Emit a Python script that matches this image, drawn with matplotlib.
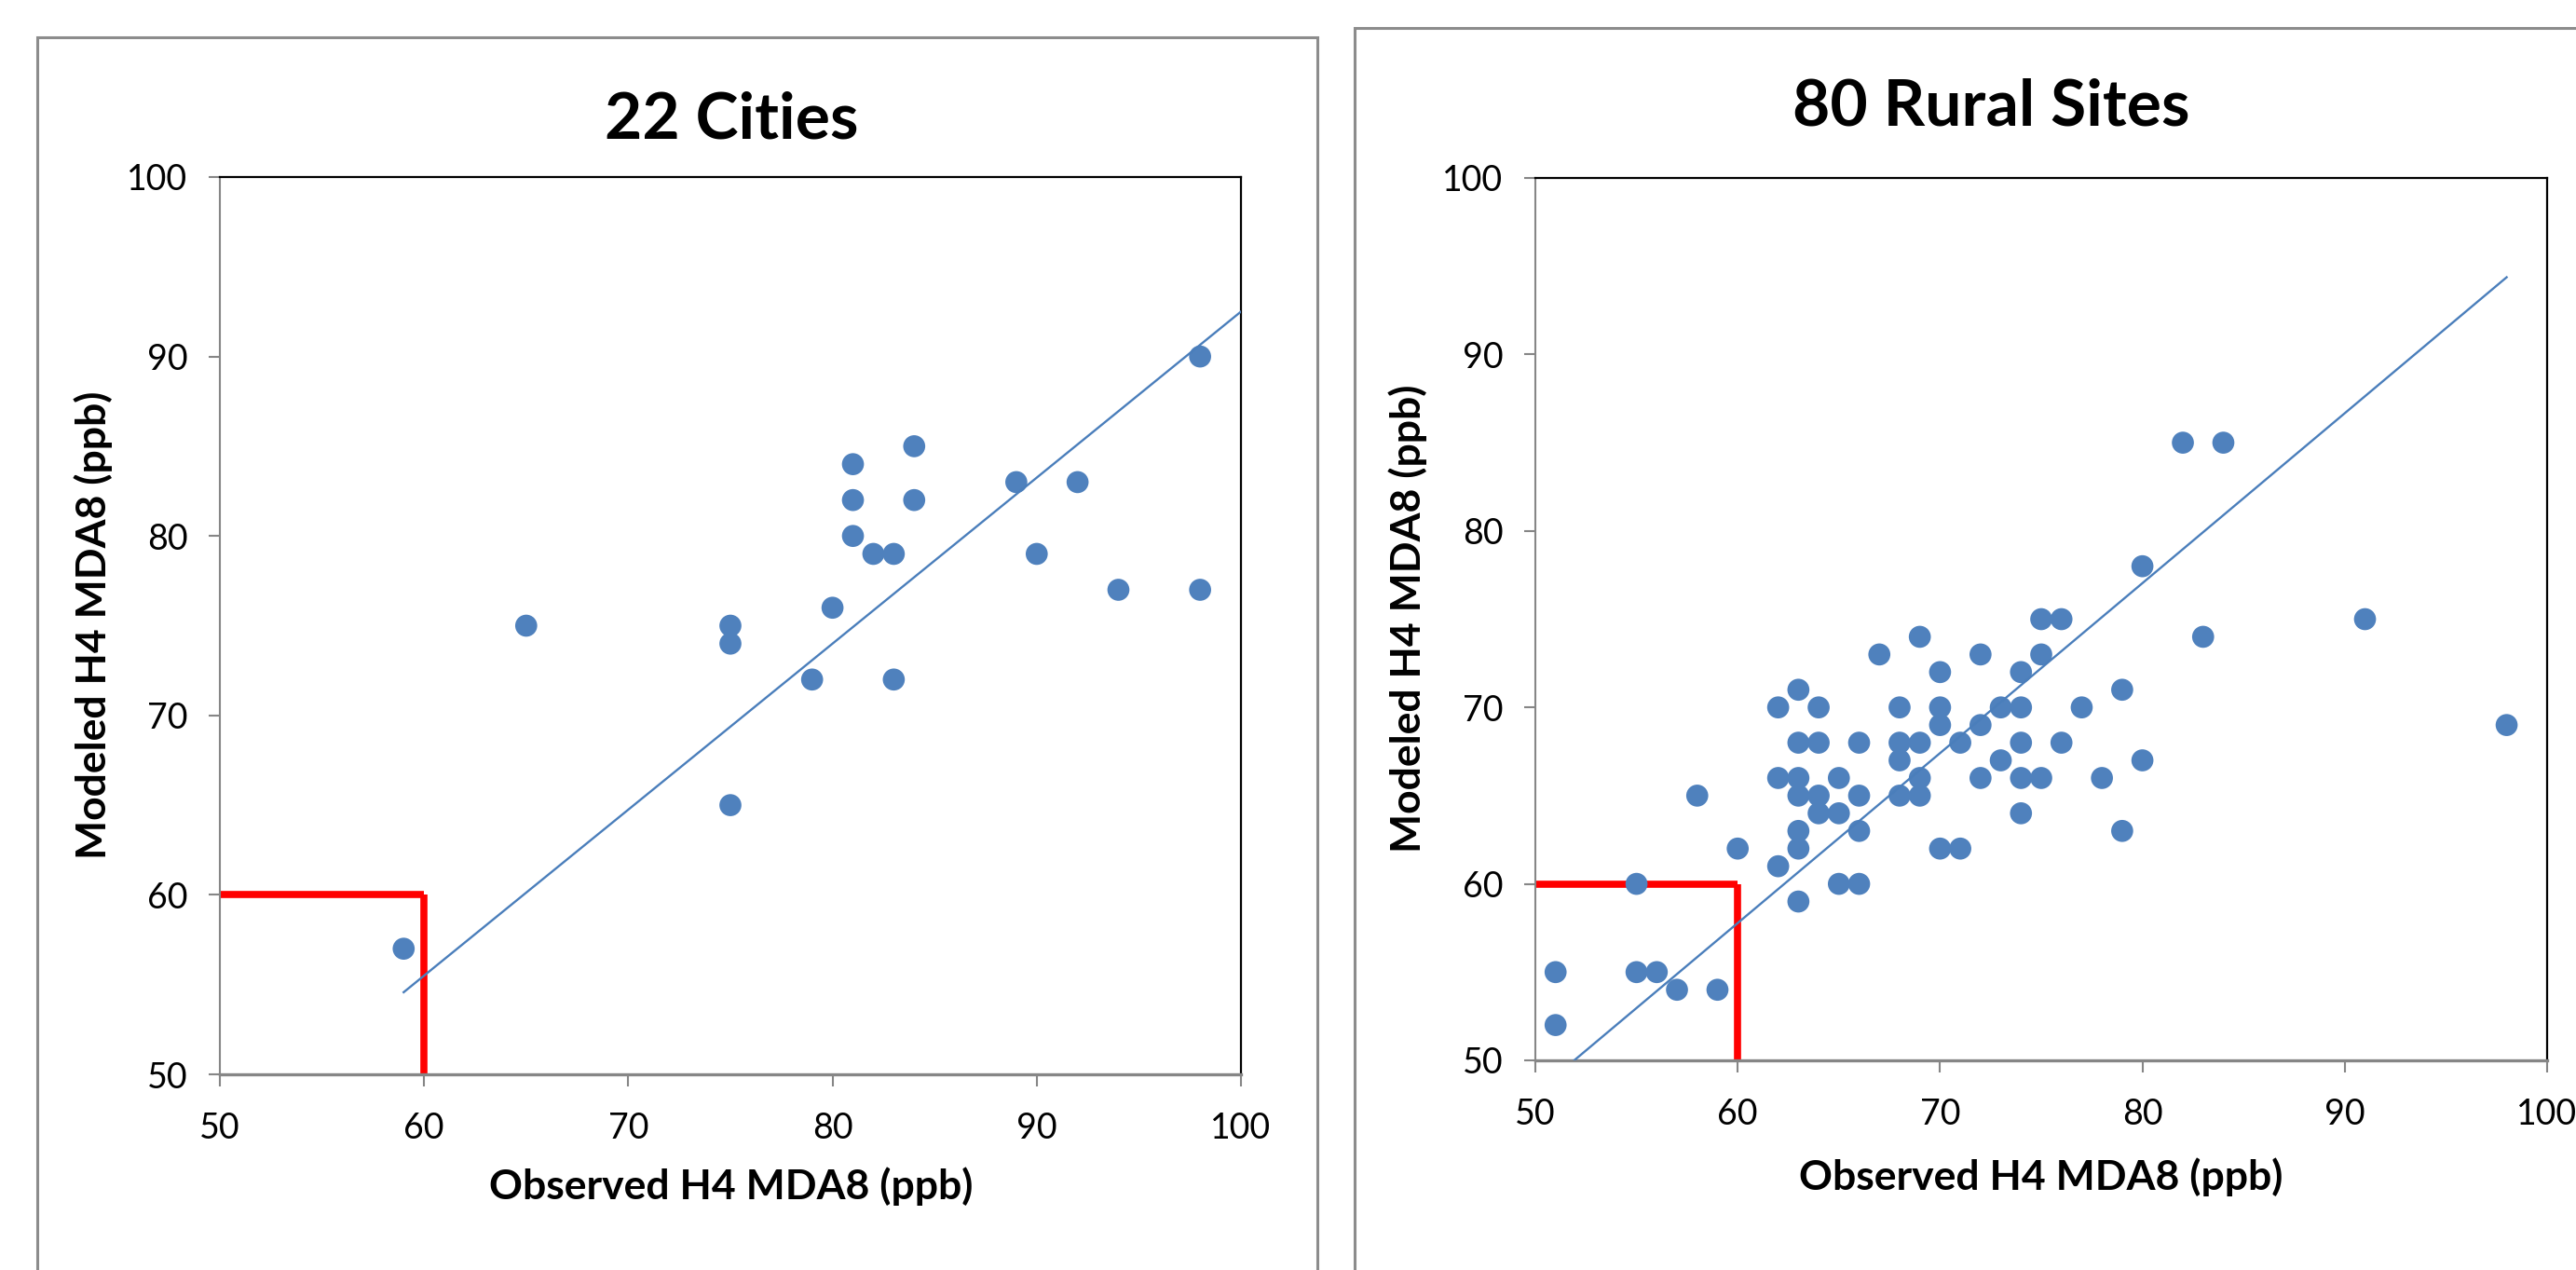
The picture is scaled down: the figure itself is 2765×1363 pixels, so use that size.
import numpy as np
import matplotlib
matplotlib.use("Agg")
import matplotlib.pyplot as plt
from matplotlib.patches import Rectangle

plt.rcParams['font.family'] = ['Lato', 'DejaVu Sans']

# 22 cities: observed vs modeled H4 MDA8 (ppb)
city_obs = [59, 65, 75, 75, 75, 79, 80, 81, 81, 81, 82,
            83, 83, 84, 84, 89, 90, 92, 94, 98, 98]
city_mod = [57, 75, 75, 74, 65, 72, 76, 84, 82, 80, 79,
            79, 72, 85, 82, 83, 79, 83, 77, 90, 77]

# 80 rural sites
rural_obs = [51, 51, 55, 55, 56, 57, 58, 59, 60,
             62, 62, 62, 63, 63, 63, 63, 63, 63, 63,
             64, 64, 64, 64, 65, 65, 65, 66, 66, 66, 66,
             67, 68, 68, 68, 68, 69, 69, 69, 69,
             70, 70, 70, 70, 71, 71, 72, 72, 72, 73, 73,
             74, 74, 74, 74, 74, 75, 75, 75, 76, 76, 77, 78,
             79, 79, 80, 80, 82, 83, 84, 91, 98]
rural_mod = [55, 52, 60, 55, 55, 54, 65, 54, 62,
             70, 66, 61, 71, 68, 66, 65, 63, 62, 59,
             70, 68, 65, 64, 66, 64, 60, 68, 65, 63, 60,
             73, 70, 68, 67, 65, 74, 68, 66, 65,
             72, 70, 69, 62, 68, 62, 73, 69, 66, 70, 67,
             72, 70, 68, 66, 64, 75, 73, 66, 75, 68, 70, 66,
             71, 63, 78, 67, 85, 74, 85, 75, 69]

# trend lines (through origin)
city_slope = 0.925
city_fit_x = [59, 100]
rural_slope = 0.963
rural_fit_x = [51.9, 98]

threshold = 60
ticks = [50, 60, 70, 80, 90, 100]

W, H = 2765, 1363
fig = plt.figure(figsize=(W / 100, H / 100), dpi=100)
fig.patch.set_facecolor('white')

blue = '#4F81BD'
gray = '#868686'


def px(x0, y0, x1, y1):
    # pixel box (top-left origin) -> figure fraction rect
    return [x0 / W, 1 - y1 / H, (x1 - x0) / W, (y1 - y0) / H]


# chart-area frames
fig.patches.append(Rectangle((40 / W, -0.1), (1414 - 40) / W, 0.1 + 1 - 40 / H,
                             transform=fig.transFigure, fill=False,
                             edgecolor='#8c8c8c', linewidth=2.2, zorder=0))
fig.patches.append(Rectangle((1454 / W, -0.1), 0.6, 0.1 + 1 - 30 / H,
                             transform=fig.transFigure, fill=False,
                             edgecolor='#8c8c8c', linewidth=2.2, zorder=0))

ax1 = fig.add_axes(px(236, 190, 1332, 1153))
ax2 = fig.add_axes(px(1648, 191, 2734, 1138))


def draw(ax, xs, ys, slope, fit_x):
    ax.plot([50, threshold], [threshold, threshold], color='red', lw=5.5, zorder=1,
            solid_capstyle='butt')
    ax.plot([threshold, threshold], [threshold, 50], color='red', lw=5.5, zorder=1,
            solid_capstyle='butt')
    ax.scatter(xs, ys, s=290, color=blue, edgecolors='none', zorder=2)
    fx = np.array(fit_x)
    ax.plot(fx, slope * fx, color='#4A7EBB', lw=1.7, zorder=3)

    ax.set_xlim(50, 100)
    ax.set_ylim(50, 100)
    ax.set_xticks(ticks)
    ax.set_yticks(ticks)
    for s in ['top', 'right']:
        ax.spines[s].set_color('black')
        ax.spines[s].set_linewidth(1.6)
    ax.spines['left'].set_color(gray)
    ax.spines['left'].set_linewidth(1.5)
    ax.spines['bottom'].set_color(gray)
    ax.spines['bottom'].set_linewidth(2.4)
    ax.tick_params(direction='out', length=9, width=1.5, color=gray,
                   labelsize=27, labelcolor='black')
    ax.tick_params(axis='x', pad=20)
    ax.tick_params(axis='y', pad=16)


draw(ax1, city_obs, city_mod, city_slope, city_fit_x)
draw(ax2, rural_obs, rural_mod, rural_slope, rural_fit_x)

# titles and axis labels
fig.text(785 / W, 1 - 129 / H, '22 Cities', ha='center', va='center',
         fontsize=50, fontweight='bold')
fig.text(2137 / W, 1 - 115 / H, '80 Rural Sites', ha='center', va='center',
         fontsize=50, fontweight='bold')

fig.text(785 / W, 1 - 1273 / H, 'Observed H4 MDA8 (ppb)', ha='center', va='center',
         fontsize=32, fontweight='bold')
fig.text(2191 / W, 1 - 1263 / H, 'Observed H4 MDA8 (ppb)', ha='center', va='center',
         fontsize=32, fontweight='bold')
fig.text(100 / W, 1 - 671 / H, 'Modeled H4 MDA8 (ppb)', ha='center', va='center',
         rotation=90, fontsize=32, fontweight='bold')
fig.text(1511 / W, 1 - 664 / H, 'Modeled H4 MDA8 (ppb)', ha='center', va='center',
         rotation=90, fontsize=32, fontweight='bold')

fig.savefig('out.png', dpi=100, facecolor='white')
